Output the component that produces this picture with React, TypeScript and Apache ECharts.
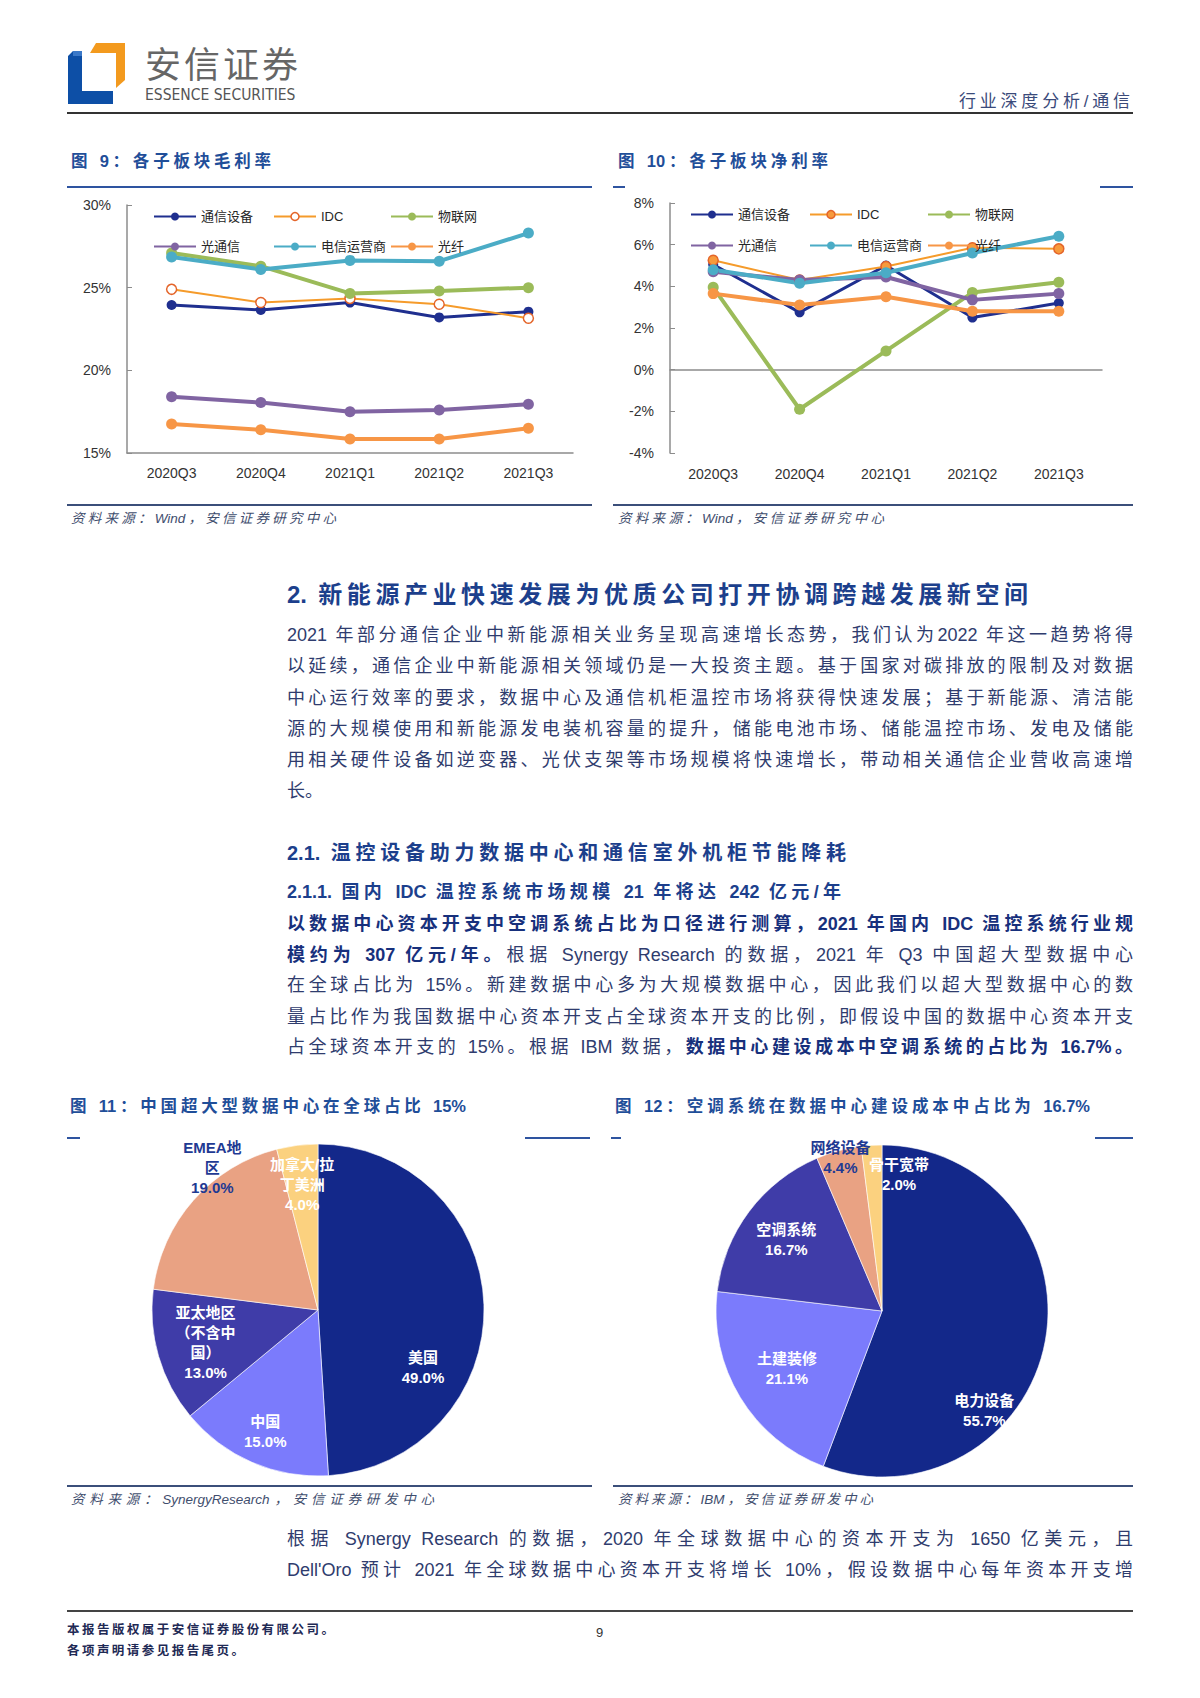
import React, { useEffect, useRef } from 'react';
import * as echarts from 'echarts';

// ---------------- data ----------------
const quarters = ['2020Q3', '2020Q4', '2021Q1', '2021Q2', '2021Q3'];
const seriesNames = ['通信设备', 'IDC', '物联网', '光通信', '电信运营商', '光纤'];

// 图9 各子板块毛利率 (%)
const grossTelecomEquip = [23.95, 23.65, 24.1, 23.2, 23.55];
const grossIDC = [24.9, 24.1, 24.35, 24.0, 23.15];
const grossIoT = [27.1, 26.3, 24.65, 24.8, 25.0];
const grossOptComm = [18.4, 18.05, 17.5, 17.6, 17.95];
const grossOperator = [26.85, 26.1, 26.65, 26.6, 28.3];
const grossFiber = [16.75, 16.4, 15.85, 15.85, 16.5];

// 图10 各子板块净利率 (%)
const netTelecomEquip = [5.05, 2.75, 5.0, 2.5, 3.2];
const netIDC = [5.25, 4.3, 4.95, 5.85, 5.8];
const netIoT = [3.95, -1.9, 0.9, 3.7, 4.2];
const netOptComm = [4.7, 4.3, 4.45, 3.35, 3.65];
const netOperator = [4.8, 4.15, 4.65, 5.6, 6.4];
const netFiber = [3.65, 3.1, 3.5, 2.8, 2.8];

// 图11 中国超大型数据中心在全球占比
const regionNames = ['美国', '中国', '亚太地区（不含中国）', 'EMEA地区', '加拿大/拉丁美洲'];
const regionShare = [49.0, 15.0, 13.0, 19.0, 4.0];

// 图12 空调系统在数据中心建设成本中占比
const costItems = ['电力设备', '土建装修', '空调系统', '网络设备', '骨干宽带'];
const costShare = [55.7, 21.1, 16.7, 4.4, 2.0];

// ---------------- styles ----------------
const FONT = '"Liberation Sans", "Noto Sans CJK SC", sans-serif';
const AXIS_GRAY = '#8C8C8C';
const lineColors = ['#1F2F8F', '#F59B2B', '#9BBB59', '#8064A2', '#4BACC6', '#F79646'];
const lineWidths = [3, 2, 4, 4, 4, 4];
const symbolSizes = [10, 10, 11, 11, 11, 11];
const pieColors = ['#13288A', '#7B7BFC', '#3F3CA8', '#E9A283', '#FBD17F'];
const NAVY_TEXT = '#1F3A93';

const legendCols9 = [153, 273, 390];
const legendRows9 = [218, 248];
const legendCols10 = [690, 809, 927];
const legendRows10 = [216, 247];

const pie1Center = [318, 1310];
const pie2Center = [882, 1311];
const pieRadius = 166;
// label placement (fraction of radius, optional angle override in degrees clockwise from top)
const pie1LabelRatio = [0.72, 0.8, 0.705, 1.07, 0.76];
const pie1LabelAngle = [118.5, null, null, 323.5, null];
const pie1LabelColor = ['#fff', '#fff', '#fff', NAVY_TEXT, '#fff'];
const pie2LabelRatio = [0.86, 0.67, 0.72, 0.96, 0.83];
const pie2LabelAngle = [134.2, null, null, null, 7.1];
const pie2LabelColor = ['#fff', '#fff', '#fff', NAVY_TEXT, '#fff'];

function makePieLabelLayout(values: number[], center: number[], radius: number, ratios: number[], angles: (number | null)[]) {
  const total = values.reduce((a, b) => a + b, 0);
  let acc = 0;
  const pos = values.map((v, i) => {
    const mid = ((acc + v / 2) / total) * 360;
    acc += v;
    const a = ((angles[i] ?? mid) * Math.PI) / 180;
    const r = radius * ratios[i];
    return [center[0] + r * Math.sin(a), center[1] - r * Math.cos(a)];
  });
  return (params: any) => ({
    x: pos[params.dataIndex][0],
    y: pos[params.dataIndex][1],
    align: 'center',
    verticalAlign: 'middle',
  });
}

function buildOption(): any {
  const grossData = [grossTelecomEquip, grossIDC, grossIoT, grossOptComm, grossOperator, grossFiber];
  const netData = [netTelecomEquip, netIDC, netIoT, netOptComm, netOperator, netFiber];

  const itemStyleFor = (i: number, chart: number) => {
    if (i === 1) {
      return chart === 0
        ? { color: '#ffffff', borderColor: '#E4652A', borderWidth: 1.5 }
        : { color: '#F79A3C', borderColor: '#E4652A', borderWidth: 1.5 };
    }
    return { color: lineColors[i] };
  };

  const mkSeries = (data: number[][], chart: number) =>
    data.map((d, i) => ({
      type: 'line',
      name: seriesNames[i],
      xAxisIndex: chart,
      yAxisIndex: chart,
      data: d,
      symbol: 'circle',
      symbolSize: symbolSizes[i],
      showSymbol: true,
      lineStyle: { color: lineColors[i], width: lineWidths[i] },
      itemStyle: itemStyleFor(i, chart),
      emphasis: { disabled: true },
      silent: true,
    }));

  const mkLegends = (cols: number[], rows: number[], chart: number) =>
    seriesNames.map((n, i) => ({
      left: cols[i % 3],
      top: rows[Math.floor(i / 3)] - 8,
      padding: 0,
      itemWidth: 42,
      itemHeight: 10,
      selectedMode: false,
      data: [
        i === 1
          ? { name: n, itemStyle: itemStyleFor(1, chart), lineStyle: { color: lineColors[1], width: 2 } }
          : { name: n },
      ],
      textStyle: { fontSize: 13, color: '#262626', fontFamily: FONT },
    }));

  const axisLabel = { fontSize: 14, color: '#333', fontFamily: FONT };

  const pieBase = {
    type: 'pie',
    radius: pieRadius,
    startAngle: 90,
    clockwise: true,
    silent: true,
    emphasis: { disabled: true },
    labelLine: { show: false },
    itemStyle: { borderColor: '#ffffff', borderWidth: 0.6 },
    label: {
      show: true,
      position: 'inside',
      formatter: (p: any) => `${p.name}\n${Number(p.value).toFixed(1)}%`,
      fontSize: 15,
      fontWeight: 'bold',
      lineHeight: 20,
      width: 66,
      overflow: 'breakAll',
      fontFamily: FONT,
    },
  };

  return {
    animation: false,
    backgroundColor: 'transparent',
    grid: [
      { left: 127, top: 205, width: 446, height: 248 },
      { left: 670, top: 203, width: 432, height: 250 },
    ],
    xAxis: [
      {
        gridIndex: 0,
        type: 'category',
        data: quarters,
        boundaryGap: true,
        axisLine: { lineStyle: { color: AXIS_GRAY, width: 1.5 } },
        axisTick: { inside: true, length: 5, lineStyle: { color: AXIS_GRAY } },
        axisLabel: { ...axisLabel, margin: 13 },
      },
      {
        gridIndex: 1,
        type: 'category',
        data: quarters,
        position: 'bottom',
        boundaryGap: true,
        axisLine: { show: false, onZero: false },
        axisTick: { show: false },
        axisLabel: { ...axisLabel, margin: 14 },
      },
      {
        gridIndex: 1,
        type: 'category',
        data: quarters,
        position: 'bottom',
        boundaryGap: true,
        axisLine: { show: true, onZero: true, lineStyle: { color: AXIS_GRAY, width: 1.5 } },
        axisTick: { inside: true, length: 5, lineStyle: { color: AXIS_GRAY } },
        axisLabel: { show: false },
      },
    ],
    yAxis: [
      {
        gridIndex: 0,
        type: 'value',
        min: 15,
        max: 30,
        interval: 5,
        axisLine: { show: true, lineStyle: { color: AXIS_GRAY, width: 1.5 } },
        axisTick: { show: true, inside: true, length: 5, lineStyle: { color: AXIS_GRAY } },
        splitLine: { show: false },
        axisLabel: { ...axisLabel, margin: 16, formatter: '{value}%' },
      },
      {
        gridIndex: 1,
        type: 'value',
        min: -4,
        max: 8,
        interval: 2,
        axisLine: { show: true, onZero: false, lineStyle: { color: AXIS_GRAY, width: 1.5 } },
        axisTick: { show: true, inside: true, length: 5, lineStyle: { color: AXIS_GRAY } },
        splitLine: { show: false },
        axisLabel: { ...axisLabel, margin: 16, formatter: '{value}%' },
      },
    ],
    legend: [...mkLegends(legendCols9, legendRows9, 0), ...mkLegends(legendCols10, legendRows10, 1)],
    series: [
      ...mkSeries(grossData, 0),
      ...mkSeries(netData, 1),
      {
        ...pieBase,
        name: 'region',
        center: pie1Center,
        data: regionNames.map((n, i) => ({
          name: n,
          value: regionShare[i],
          itemStyle: { color: pieColors[i] },
          label: { color: pie1LabelColor[i] },
        })),
        labelLayout: makePieLabelLayout(regionShare, pie1Center, pieRadius, pie1LabelRatio, pie1LabelAngle),
      },
      {
        ...pieBase,
        name: 'cost',
        center: pie2Center,
        data: costItems.map((n, i) => ({
          name: n,
          value: costShare[i],
          itemStyle: { color: pieColors[i] },
          label: { color: pie2LabelColor[i] },
        })),
        labelLayout: makePieLabelLayout(costShare, pie2Center, pieRadius, pie2LabelRatio, pie2LabelAngle),
      },
    ],
  };
}

// ---------------- page text helpers ----------------
const BODY_FONT = '"Liberation Sans", "Noto Sans CJK SC", sans-serif';
const BODY_COLOR = '#2F3C6E';
const BOLD_COLOR = '#17307C';
const HEAD_COLOR = '#1C3F8C';
const FIG_COLOR = '#1F4E99';
const SRC_COLOR = '#3F4E6E';

type TxtProps = {
  x: number;
  y: number;
  w?: number;
  size: number;
  color: string;
  weight?: number;
  italic?: boolean;
  justify?: boolean;
  ls?: number;
  family?: string;
  children: React.ReactNode;
};

function Txt({ x, y, w, size, color, weight = 400, italic = false, justify = false, ls = 0, family = BODY_FONT, children }: TxtProps) {
  const h = Math.round(size * 1.5);
  return (
    <div
      style={{
        position: 'absolute',
        left: x,
        top: y - h / 2,
        width: w,
        height: h,
        lineHeight: `${h}px`,
        fontSize: size,
        color,
        fontWeight: weight,
        fontStyle: italic ? 'italic' : 'normal',
        textAlign: justify ? 'justify' : 'left',
        textAlignLast: justify ? 'justify' : 'auto',
        whiteSpace: justify ? 'normal' : 'nowrap',
        letterSpacing: ls,
        fontFamily: family,
      } as React.CSSProperties}
    >
      {children}
    </div>
  );
}

function Rule({ x1, x2, y, color, h = 2 }: { x1: number; x2: number; y: number; color: string; h?: number }) {
  return <div style={{ position: 'absolute', left: x1, top: y - h / 2, width: x2 - x1, height: h, background: color }} />;
}

const B = ({ children }: { children: React.ReactNode }) => (
  <span style={{ fontWeight: 700, color: BOLD_COLOR }}>{children}</span>
);

const BODY_X = 287;
const BODY_W = 846;
const BODY_SIZE = 18;

const para1 = [
  '2021 年部分通信企业中新能源相关业务呈现高速增长态势，我们认为2022 年这一趋势将得',
  '以延续，通信企业中新能源相关领域仍是一大投资主题。基于国家对碳排放的限制及对数据',
  '中心运行效率的要求，数据中心及通信机柜温控市场将获得快速发展；基于新能源、清洁能',
  '源的大规模使用和新能源发电装机容量的提升，储能电池市场、储能温控市场、发电及储能',
  '用相关硬件设备如逆变器、光伏支架等市场规模将快速增长，带动相关通信企业营收高速增',
];
const para1Y = [635, 666, 698, 729, 760];

const FIG_LINE = '#2E54A0';
const SRC_LINE = '#3B4F7A';

export default function App() {
  const ref = useRef<HTMLDivElement>(null);
  useEffect(() => {
    if (!ref.current) return;
    const chart = echarts.init(ref.current, null, { renderer: 'svg' });
    chart.setOption(buildOption());
    return () => chart.dispose();
  }, []);

  return (
    <div style={{ position: 'absolute', left: 0, top: 0, width: 1200, height: 1698, background: '#ffffff', overflow: 'hidden' }}>
      <div ref={ref} style={{ position: 'absolute', left: 0, top: 0, width: 1200, height: 1698 }} />

      {/* header logo */}
      <svg style={{ position: 'absolute', left: 0, top: 0 }} width={140} height={120}>
        <polygon points="90,53 96,43 125,43 125,80 116,88 116,53" fill="#F39A1E" />
        <polygon points="68,56 73,51 82,51 82,91 113,91 113,104 68,104" fill="#0D4FA6" />
        <polygon points="73,51 82,51 82,56 73,56" fill="#3A78C8" />
      </svg>
      <Txt x={145} y={62} size={36} color="#666666" ls={3} family='"Noto Sans CJK SC", sans-serif'>安信证券</Txt>
      <Txt x={145} y={95} size={15.5} color="#555555" family='"DejaVu Sans Condensed", "Liberation Sans", sans-serif'>ESSENCE SECURITIES</Txt>
      <Txt x={959} y={102} w={171} size={17} color="#3A4A7A" justify>行业深度分析/通信</Txt>
      <Rule x1={67} x2={1133} y={113} color="#333333" h={2} />

      {/* figure 9 / 10 titles */}
      <Txt x={71} y={161} w={200} size={16.5} color={FIG_COLOR} weight={700} justify>图 9：各子板块毛利率</Txt>
      <Txt x={618} y={161} w={210} size={16.5} color={FIG_COLOR} weight={700} justify>图 10：各子板块净利率</Txt>
      <Rule x1={67} x2={592} y={187} color={FIG_LINE} />
      <Rule x1={613} x2={625} y={187} color={FIG_LINE} />
      <Rule x1={1100} x2={1133} y={187} color={FIG_LINE} />

      <Rule x1={67} x2={592} y={505} color={SRC_LINE} />
      <Rule x1={613} x2={1133} y={505} color={SRC_LINE} />
      <Txt x={71} y={519} w={265} size={13.5} color={SRC_COLOR} italic justify>资料来源：Wind，安信证券研究中心</Txt>
      <Txt x={618} y={519} w={266} size={13.5} color={SRC_COLOR} italic justify>资料来源：Wind，安信证券研究中心</Txt>

      {/* section 2 */}
      <Txt x={BODY_X} y={595} w={741} size={24} color={HEAD_COLOR} weight={700} justify>2. 新能源产业快速发展为优质公司打开协调跨越发展新空间</Txt>
      {para1.map((t, i) => (
        <Txt key={i} x={BODY_X} y={para1Y[i]} w={BODY_W} size={BODY_SIZE} color={BODY_COLOR} justify>{t}</Txt>
      ))}
      <Txt x={BODY_X} y={791} size={BODY_SIZE} color={BODY_COLOR}>长。</Txt>

      <Txt x={BODY_X} y={853} w={559} size={20} color={HEAD_COLOR} weight={700} justify>2.1. 温控设备助力数据中心和通信室外机柜节能降耗</Txt>
      <Txt x={BODY_X} y={892} w={554} size={18} color={HEAD_COLOR} weight={700} justify>2.1.1. 国内 IDC 温控系统市场规模 21 年将达 242 亿元/年</Txt>

      <Txt x={BODY_X} y={924} w={BODY_W} size={BODY_SIZE} color={BODY_COLOR} justify>
        <B>以数据中心资本开支中空调系统占比为口径进行测算，2021 年国内 IDC 温控系统行业规</B>
      </Txt>
      <Txt x={BODY_X} y={955} w={BODY_W} size={BODY_SIZE} color={BODY_COLOR} justify>
        <B>模约为 307 亿元/年。</B>根据 Synergy Research 的数据，2021 年 Q3 中国超大型数据中心
      </Txt>
      <Txt x={BODY_X} y={985} w={BODY_W} size={BODY_SIZE} color={BODY_COLOR} justify>
        在全球占比为 15%。新建数据中心多为大规模数据中心，因此我们以超大型数据中心的数
      </Txt>
      <Txt x={BODY_X} y={1017} w={BODY_W} size={BODY_SIZE} color={BODY_COLOR} justify>
        量占比作为我国数据中心资本开支占全球资本开支的比例，即假设中国的数据中心资本开支
      </Txt>
      <Txt x={BODY_X} y={1047} w={BODY_W} size={BODY_SIZE} color={BODY_COLOR} justify>
        占全球资本开支的 15%。根据 IBM 数据，<B>数据中心建设成本中空调系统的占比为 16.7%。</B>
      </Txt>

      {/* figure 11 / 12 titles */}
      <Txt x={70} y={1106} w={396} size={16.5} color={FIG_COLOR} weight={700} justify>图 11：中国超大型数据中心在全球占比 15%</Txt>
      <Txt x={615} y={1106} w={475} size={16.5} color={FIG_COLOR} weight={700} justify>图 12：空调系统在数据中心建设成本中占比为 16.7%</Txt>
      <Rule x1={67} x2={80} y={1138} color={FIG_LINE} />
      <Rule x1={525} x2={590} y={1138} color={FIG_LINE} />
      <Rule x1={611} x2={621} y={1138} color={FIG_LINE} />
      <Rule x1={1095} x2={1133} y={1138} color={FIG_LINE} />

      <Rule x1={67} x2={592} y={1486} color={SRC_LINE} />
      <Rule x1={613} x2={1133} y={1486} color={SRC_LINE} />
      <Txt x={71} y={1500} w={363} size={13.5} color={SRC_COLOR} italic justify>资料来源：SynergyResearch，安信证券研发中心</Txt>
      <Txt x={618} y={1500} w={255} size={13.5} color={SRC_COLOR} italic justify>资料来源：IBM，安信证券研发中心</Txt>

      <Txt x={BODY_X} y={1539} w={BODY_W} size={BODY_SIZE} color={BODY_COLOR} justify>
        根据 Synergy Research 的数据，2020 年全球数据中心的资本开支为 1650 亿美元，且
      </Txt>
      <Txt x={BODY_X} y={1570} w={BODY_W} size={BODY_SIZE} color={BODY_COLOR} justify>
        Dell'Oro 预计 2021 年全球数据中心资本开支将增长 10%，假设数据中心每年资本开支增
      </Txt>

      {/* footer */}
      <Rule x1={67} x2={1133} y={1611} color="#444444" h={1.5} />
      <Txt x={67} y={1630} w={267} size={12.5} color="#1F2A55" weight={700} justify>本报告版权属于安信证券股份有限公司。</Txt>
      <Txt x={67} y={1651} w={177} size={12.5} color="#1F2A55" weight={700} justify>各项声明请参见报告尾页。</Txt>
      <Txt x={596} y={1633} size={13} color="#333333">9</Txt>
    </div>
  );
}
